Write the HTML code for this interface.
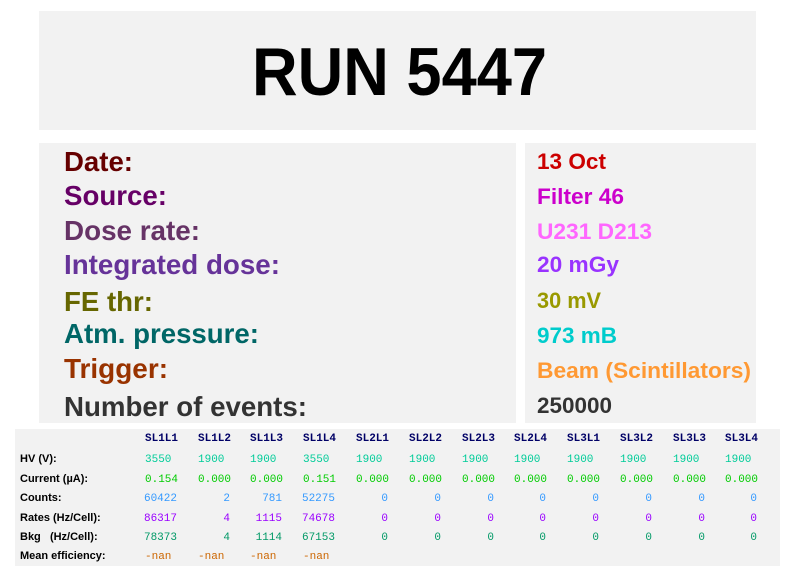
<!DOCTYPE html>
<html><head><meta charset="utf-8"><style>
html,body{margin:0;padding:0;background:#fff;width:796px;height:572px;overflow:hidden}
svg{display:block}
.l{font-family:"Liberation Sans",sans-serif;font-weight:bold;font-size:28px}
.v{font-family:"Liberation Sans",sans-serif;font-weight:bold;font-size:22px}
.t{font-family:"Liberation Sans",sans-serif;font-weight:bold;font-size:11px;fill:#000}
.m{font-family:"Liberation Mono",monospace;font-size:11px}
.h{font-family:"Liberation Mono",monospace;font-weight:bold;font-size:11px;fill:#000066}
</style></head><body>
<svg width="796" height="572" viewBox="0 0 796 572" xmlns="http://www.w3.org/2000/svg">
<rect x="0" y="0" width="796" height="572" fill="#fff"/>
<rect x="39" y="11" width="717" height="119" fill="#f2f2f2"/>
<text x="399.5" y="95" text-anchor="middle" font-family="Liberation Sans, sans-serif" font-weight="bold" font-size="68" textLength="295" lengthAdjust="spacingAndGlyphs">RUN 5447</text>
<rect x="39" y="143" width="477" height="280" fill="#f2f2f2"/>
<rect x="525" y="143" width="231" height="280" fill="#f2f2f2"/>
<g class="l" lengthAdjust="spacingAndGlyphs">
<text x="64" y="171" fill="#660000" textLength="69" lengthAdjust="spacingAndGlyphs">Date:</text>
<text x="64" y="205" fill="#660066" textLength="103" lengthAdjust="spacingAndGlyphs">Source:</text>
<text x="64" y="240" fill="#663366" textLength="136" lengthAdjust="spacingAndGlyphs">Dose rate:</text>
<text x="64" y="274" fill="#663399" textLength="216" lengthAdjust="spacingAndGlyphs">Integrated dose:</text>
<text x="64" y="311" fill="#666600" textLength="89" lengthAdjust="spacingAndGlyphs">FE thr:</text>
<text x="64" y="343" fill="#006666" textLength="195" lengthAdjust="spacingAndGlyphs">Atm. pressure:</text>
<text x="64" y="378" fill="#993300" textLength="104" lengthAdjust="spacingAndGlyphs">Trigger:</text>
<text x="64" y="416" fill="#333333" textLength="243" lengthAdjust="spacingAndGlyphs">Number of events:</text>
</g>
<g class="v">
<text x="537" y="169" fill="#cc0000" textLength="69" lengthAdjust="spacingAndGlyphs">13 Oct</text>
<text x="537" y="204" fill="#cc00cc" textLength="87" lengthAdjust="spacingAndGlyphs">Filter 46</text>
<text x="537" y="239" fill="#ff66ff" textLength="115" lengthAdjust="spacingAndGlyphs">U231 D213</text>
<text x="537" y="272" fill="#9933ff" textLength="82" lengthAdjust="spacingAndGlyphs">20 mGy</text>
<text x="537" y="308" fill="#999900" textLength="64" lengthAdjust="spacingAndGlyphs">30 mV</text>
<text x="537" y="343" fill="#00cccc" textLength="80" lengthAdjust="spacingAndGlyphs">973 mB</text>
<text x="537" y="378" fill="#ff9933" textLength="214" lengthAdjust="spacingAndGlyphs">Beam (Scintillators)</text>
<text x="537" y="413" fill="#333333" textLength="75" lengthAdjust="spacingAndGlyphs">250000</text>
</g>
<rect x="15" y="429" width="765" height="137" fill="#f2f2f2"/>
<g class="t">
<text x="20" y="462">HV (V):</text>
<text x="20" y="482">Current (µA):</text>
<text x="20" y="501">Counts:</text>
<text x="20" y="521">Rates (Hz/Cell):</text>
<text x="20" y="540">Bkg &#160; (Hz/Cell):</text>
<text x="20" y="559">Mean efficiency:</text>
</g>
<g class="h">
<text x="145" y="441">SL1L1</text><text x="198" y="441">SL1L2</text><text x="250" y="441">SL1L3</text><text x="303" y="441">SL1L4</text>
<text x="356" y="441">SL2L1</text><text x="409" y="441">SL2L2</text><text x="462" y="441">SL2L3</text><text x="514" y="441">SL2L4</text>
<text x="567" y="441">SL3L1</text><text x="620" y="441">SL3L2</text><text x="673" y="441">SL3L3</text><text x="725" y="441">SL3L4</text>
</g>
<g class="m" fill="#00cc99">
<text x="145" y="462">3550</text><text x="198" y="462">1900</text><text x="250" y="462">1900</text><text x="303" y="462">3550</text>
<text x="356" y="462">1900</text><text x="409" y="462">1900</text><text x="462" y="462">1900</text><text x="514" y="462">1900</text>
<text x="567" y="462">1900</text><text x="620" y="462">1900</text><text x="673" y="462">1900</text><text x="725" y="462">1900</text>
</g>
<g class="m" fill="#00cc00">
<text x="145" y="482">0.154</text><text x="198" y="482">0.000</text><text x="250" y="482">0.000</text><text x="303" y="482">0.151</text>
<text x="356" y="482">0.000</text><text x="409" y="482">0.000</text><text x="462" y="482">0.000</text><text x="514" y="482">0.000</text>
<text x="567" y="482">0.000</text><text x="620" y="482">0.000</text><text x="673" y="482">0.000</text><text x="725" y="482">0.000</text>
</g>
<g class="m" fill="#3399ff" text-anchor="end">
<text x="177" y="501">60422</text><text x="230" y="501">2</text><text x="282" y="501">781</text><text x="335" y="501">52275</text>
<text x="388" y="501">0</text><text x="441" y="501">0</text><text x="494" y="501">0</text><text x="546" y="501">0</text>
<text x="599" y="501">0</text><text x="652" y="501">0</text><text x="705" y="501">0</text><text x="757" y="501">0</text>
</g>
<g class="m" fill="#9900ff" text-anchor="end">
<text x="177" y="521">86317</text><text x="230" y="521">4</text><text x="282" y="521">1115</text><text x="335" y="521">74678</text>
<text x="388" y="521">0</text><text x="441" y="521">0</text><text x="494" y="521">0</text><text x="546" y="521">0</text>
<text x="599" y="521">0</text><text x="652" y="521">0</text><text x="705" y="521">0</text><text x="757" y="521">0</text>
</g>
<g class="m" fill="#009966" text-anchor="end">
<text x="177" y="540">78373</text><text x="230" y="540">4</text><text x="282" y="540">1114</text><text x="335" y="540">67153</text>
<text x="388" y="540">0</text><text x="441" y="540">0</text><text x="494" y="540">0</text><text x="546" y="540">0</text>
<text x="599" y="540">0</text><text x="652" y="540">0</text><text x="705" y="540">0</text><text x="757" y="540">0</text>
</g>
<g class="m" fill="#cc6600">
<text x="145" y="559">-nan</text><text x="198" y="559">-nan</text><text x="250" y="559">-nan</text><text x="303" y="559">-nan</text>
</g>
</svg>
</body></html>
